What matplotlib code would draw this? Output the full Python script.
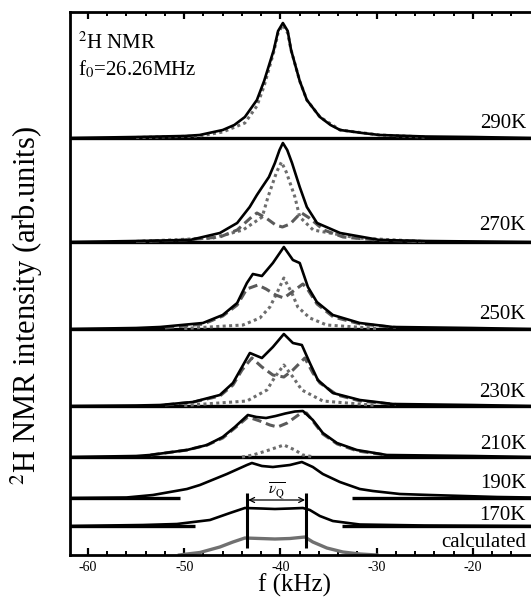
import numpy as np
import matplotlib
matplotlib.use("Agg")
import matplotlib.pyplot as plt
import matplotlib.transforms as mtransforms

# ---- data (f in kHz, intensity in arb. units) ----

f290_s = [-62, -55, -50, -48.4, -46.0, -44.8, -43.7, -42.45, -41.7, -40.7, -40.25, -39.75, -39.25, -38.9, -38.0, -37.26, -35.9, -34.8, -33.8, -31.5, -29.7, -25, -20, -14]
i290_s = [0, 1, 2, 3, 8, 13, 21, 38, 57, 88, 107, 115, 107, 88, 57, 38, 21, 13, 8, 5, 3, 1.5, 1, 0]
f290_d = [-55, -48.4, -46.0, -43.7, -42.45, -41.7, -40.7, -40.25, -39.75, -39.25, -38.9, -38.0, -37.26, -35.9, -33.8, -29.7, -25]
i290_d = [0.5, 2, 6, 15, 32, 52, 86, 105, 113, 105, 88, 57, 38, 21, 8, 3, 1]

f270_s = [-62, -55, -49.4, -46.3, -44.5, -43.2, -42.45, -41.9, -41.2, -40.58, -40.1, -39.75, -39.3, -38.8, -38.0, -37.26, -36.2, -33.8, -29.7, -25, -14]
i270_s = [0, 1, 2, 9, 19, 35, 47, 55, 65, 79, 92, 99, 92, 79, 55, 35, 19, 9, 2, 1, 0]
f270_d = [-55, -47.0, -43.9, -41.9, -41.3, -40.4, -39.9, -39.4, -38.5, -38.0, -36.6, -32.0, -25]
i270_d = [0.5, 4, 12, 25, 45, 70, 80, 70, 45, 25, 12, 4, 0.5]
f270_b = [-55, -50, -46.3, -44.5, -43.0, -42.45, -41.5, -40.5, -39.8, -39.0, -38.2, -37.8, -37.0, -35.5, -33.5, -30, -25]
i270_b = [0.5, 2, 5, 12, 25, 29, 24, 17, 15, 18, 26, 29, 24, 12, 5, 2, 0.5]

f250_s = [-62, -55, -52.5, -48.06, -46.0, -44.5, -43.49, -42.87, -41.93, -40.79, -39.65, -38.71, -38.0, -37.15, -36.22, -34.56, -31.76, -28.33, -20, -14]
i250_s = [0, 1, 2, 6, 14, 26, 46, 55, 53, 66, 82, 69, 66, 42, 27, 14, 6, 2, 1, 0]
f250_d = [-50, -43.9, -42.14, -41.1, -40.37, -39.65, -38.82, -38.2, -36.95, -35.2, -30]
i250_d = [0.5, 4, 11, 22, 36, 51, 36, 22, 11, 4, 0.5]
f250_b = [-52, -48, -46, -44.5, -43.5, -42.35, -41.5, -40.5, -39.65, -38.8, -37.67, -37.2, -36.2, -34.5, -31.7, -28]
i250_b = [1, 5, 13, 24, 40, 44, 40, 34, 31, 37, 45, 40, 25, 12, 5, 1.5]

f230_s = [-62, -55, -52.5, -49.1, -46.3, -44.94, -44.0, -43.18, -41.93, -40.79, -39.65, -38.71, -37.78, -36.95, -36.12, -34.56, -31.76, -28.33, -20, -14]
i230_s = [0, 0.5, 1, 4, 11, 23, 39, 53, 48, 59, 72, 63, 61, 43, 26, 13, 6, 2, 1, 0]
f230_d = [-50, -43.49, -41.41, -40.58, -39.65, -38.71, -37.78, -35.6, -30]
i230_d = [0.5, 5, 16, 29, 41, 29, 16, 5, 0.5]
f230_b = [-52, -49, -46.3, -44.94, -44.0, -42.97, -41.93, -40.79, -39.65, -38.71, -37.47, -36.63, -35.9, -34.1, -31.7, -28]
i230_b = [1, 4, 10, 21, 36, 48, 39, 31, 29, 36, 48, 33, 23, 11, 5, 1.5]

f210_s = [-62, -55, -53.56, -49.72, -47.64, -46.0, -44.74, -43.39, -42.5, -41.5, -40.5, -39.5, -38.5, -37.67, -36.64, -35.6, -34.14, -32.07, -28.95, -20, -14]
i210_s = [0, 1, 2, 7, 12, 20, 30, 42, 40, 39, 41, 43.5, 45.5, 46, 37, 24, 14, 7, 2, 1, 0]
f210_d = [-44.0, -42.87, -41.5, -39.65, -38.5, -37.67, -36.5]
i210_d = [0, 2, 6, 12, 7, 2, 0]
f210_b = [-53.5, -49.7, -47.6, -46.0, -44.74, -43.39, -42.14, -41.1, -40.3, -39.3, -38.0, -37.3, -36.64, -35.6, -34.1, -32.0, -29]
i210_b = [2, 7, 12, 19, 29, 40, 36, 32, 30, 34, 43, 44, 36, 23, 13, 6, 2]

f190 = [-62, -56, -53.25, -49.72, -48.37, -45.57, -43.49, -42.97, -41.93, -40.79, -39.02, -37.78, -36.64, -35.6, -33.83, -31.76, -30.4, -27.6, -24.5, -17.5, -14]
i190 = [0, 0.5, 3, 9, 13, 24, 33, 35, 32, 31, 33, 36, 31, 24, 16, 9, 7, 4, 3, 1, 0.5]

f170 = [-62, -54.29, -50.76, -47.33, -45.25, -43.7, -42.0, -40.58, -39.0, -37.67, -36.95, -35.91, -34.56, -31.76, -25, -14]
i170 = [0, 1, 2, 6, 13, 18, 17.5, 17, 17.5, 18, 16, 10, 5, 1.5, 0.5, 0]

f_calc = [-50.5, -49.7, -48.37, -46.3, -44.94, -43.7, -42.14, -40.58, -39.02, -37.47, -36.64, -35.18, -33.52, -31.76, -30]
i_calc = [0, 1, 2.5, 8, 13, 17, 16.5, 16, 16.5, 18, 13, 7, 3, 1, 0]

nu_q_edges = [-43.5, -37.3]

temps = ["290K", "270K", "250K", "230K", "210K", "190K", "170K", "calculated"]

# ---- layout: vertical baseline of each trace ----
base = {"290K": 417, "270K": 313, "250K": 226, "230K": 149, "210K": 98,
        "190K": 57, "170K": 29, "calculated": 0}

plt.rcParams['font.family'] = ['Liberation Serif', 'DejaVu Serif']
plt.rcParams['mathtext.fontset'] = 'stix'
plt.rcParams['axes.unicode_minus'] = False

fig = plt.figure(figsize=(5.31, 5.99), dpi=100)
ax = fig.add_axes([70/531, 1-555/599, (531-70)/531, (555-12)/599])

k = 'black'
g_dot = '#6d6d6d'
g_dash = '#5a5a5a'
dot = (0, (1, 1.1))
dash = (0, (3, 1.6))


def trace(f, y, b, **kw):
    ax.plot(f, np.array(y) + b, **kw)


# separators (full)
for t in ["290K", "270K", "250K", "230K", "210K"]:
    ax.axhline(base[t], color=k, lw=2.4, zorder=1)
# partial baselines for 190K and 170K
ax.hlines(base["190K"], -62, -50.4, color=k, lw=2.4)
ax.hlines(base["190K"], -32.6, -13, color=k, lw=2.4)
ax.hlines(base["170K"], -62, -48.9, color=k, lw=2.4)
ax.hlines(base["170K"], -33.6, -13, color=k, lw=2.4)

# component curves
trace(f290_d, i290_d, base["290K"], color=g_dot, lw=2.2, ls=dot)
trace(f270_d, i270_d, base["270K"], color=g_dot, lw=2.2, ls=dot)
trace(f270_b, i270_b, base["270K"], color=g_dash, lw=2.2, ls=dash)
trace(f250_d, i250_d, base["250K"], color=g_dot, lw=2.2, ls=dot)
trace(f250_b, i250_b, base["250K"], color=g_dash, lw=2.2, ls=dash)
trace(f230_d, i230_d, base["230K"], color=g_dot, lw=2.2, ls=dot)
trace(f230_b, i230_b, base["230K"], color=g_dash, lw=2.2, ls=dash)
trace(f210_d, i210_d, base["210K"], color=g_dot, lw=2.2, ls=dot)
trace(f210_b, i210_b, base["210K"], color=g_dash, lw=2.2, ls=dash)

# measured spectra
trace(f290_s, i290_s, base["290K"], color=k, lw=1.9)
trace(f270_s, i270_s, base["270K"], color=k, lw=1.9)
trace(f250_s, i250_s, base["250K"], color=k, lw=1.9)
trace(f230_s, i230_s, base["230K"], color=k, lw=1.9)
trace(f210_s, i210_s, base["210K"], color=k, lw=1.9)
trace(f190, i190, base["190K"], color=k, lw=1.9)
trace(f170, i170, base["170K"], color=k, lw=1.9)
trace(f_calc, i_calc, base["calculated"], color='#707070', lw=2.4)

# nu_Q markers
for xe in nu_q_edges:
    ax.vlines(xe, 7, 62, color=k, lw=2.2)
ax.annotate('', xy=(nu_q_edges[0], 55), xytext=(nu_q_edges[1], 55),
            arrowprops=dict(arrowstyle='<->', lw=0.9, color=k,
                            shrinkA=1, shrinkB=1, mutation_scale=9))
ax.text(np.mean(nu_q_edges), 64, r'$\overline{\nu_{\rm Q}}$', fontsize=11,
        ha='center', va='center')

# temperature labels
trans = mtransforms.blended_transform_factory(ax.transAxes, ax.transData)
lab_off = {"290K": 10, "270K": 12, "250K": 10, "230K": 9, "210K": 8,
           "190K": 10, "170K": 6, "calculated": 8}
for t in temps:
    ax.text(0.989, base[t] + lab_off[t], t, transform=trans, ha='right',
            va='baseline', fontsize=15)

ax.text(0.017, 0.963, r'$^{2}$H NMR', transform=ax.transAxes, fontsize=15,
        ha='left', va='top')
ax.text(0.017, 0.915, r'f$_{0}$=26.26MHz', transform=ax.transAxes, fontsize=15,
        ha='left', va='top')

ax.set_xlim(-61.87, -13.97)
ax.set_ylim(0, 543)
ax.set_yticks([])
ax.set_xticks([-60, -50, -40, -30, -20])
ax.set_xticks(np.arange(-60, -14, 2), minor=True)
ax.tick_params(axis='x', which='both', direction='in', top=True, bottom=True,
               labelsize=10, pad=4)
ax.tick_params(axis='x', which='major', length=5, width=1.6)
ax.tick_params(axis='x', which='minor', length=3, width=1.4)
for s in ['top', 'bottom', 'left']:
    ax.spines[s].set_linewidth(2)
ax.spines['right'].set_visible(False)

ax.set_xlabel('f (kHz)', fontsize=18)
ax.xaxis.set_label_coords(0.488, -0.035)
ax.set_ylabel(r'$^{2}$H NMR intensity (arb.units)', fontsize=22)
ax.yaxis.set_label_coords(-0.054, 0.46)

fig.savefig('out.png', dpi=100)
